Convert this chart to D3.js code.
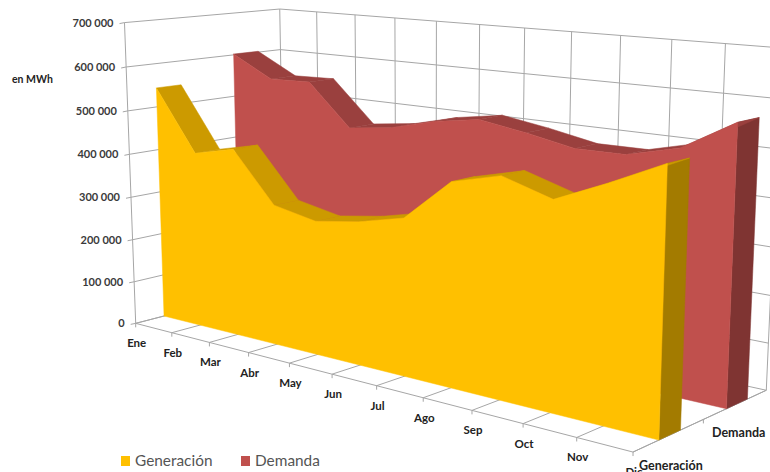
<!DOCTYPE html>
<html>
<head>
<meta charset="utf-8">
<script src="https://cdn.jsdelivr.net/npm/d3@7"></script>
<style>
  body { margin: 0; background: #fff; overflow: hidden; }
  text { font-family: Lato, "Noto Sans", sans-serif; }
</style>
</head>
<body>
<div id="chart"></div>
<script>
// Chart data, in MWh
var months = ["Ene", "Feb", "Mar", "Abr", "May", "Jun", "Jul", "Ago", "Sep", "Oct", "Nov", "Dic"];
var generacion = [544000, 405000, 428000, 317000, 298000, 314000, 339000, 430000, 457000, 426000, 473000, 524000];
var demanda = [602000, 552000, 555000, 460000, 473000, 499000, 516000, 500000, 480000, 481000, 508000, 571000];
var valueTicks = [0, 100000, 200000, 300000, 400000, 500000, 600000, 700000];
var seriesNames = ["Generación", "Demanda"];

var svgWidth = 770;
var svgHeight = 472;

var svg = d3.select("#chart")
  .append("svg")
  .attr("width", svgWidth)
  .attr("height", svgHeight);

// Scales into the 3D box: x = month, y = value, z = depth
var xScale = d3.scalePoint().domain(months).range([0, 11]);
var yScale = d3.scaleLinear().domain([0, 700000]).range([0, 7]);
// depth of each series as [front, back]
var zBand = { "Generación": [0.177, 0.331], "Demanda": [0.677, 0.844] };
var midDepth = 0.5;

// Camera: projective matrix fitted to the box corners and tick positions
var camera = fitCamera([
  [0, 0, 0, 136, 323], [1, 0, 0, 172, 333], [2, 0, 0, 210, 343], [3, 0, 0, 249, 353],
  [4, 0, 0, 290, 363], [5, 0, 0, 332, 375], [6, 0, 0, 377, 386], [7, 0, 0, 423, 397],
  [8, 0, 0, 472, 411], [9, 0, 0, 523, 424], [10, 0, 0, 577, 437], [11, 0, 0, 633, 452],
  [0, 7, 1, 280, 9], [1, 7, 1, 317, 12], [2, 7, 1, 355, 15], [3, 7, 1, 395, 18],
  [4, 7, 1, 437, 22], [5, 7, 1, 480, 25], [6, 7, 1, 524, 28], [7, 7, 1, 572, 32],
  [8, 7, 1, 621, 35], [9, 7, 1, 672, 39], [10, 7, 1, 726, 43], [11, 7, 1, 780, 47],
  [0, 1, 0, 134, 281], [0, 2, 0, 133, 239], [0, 3, 0, 131, 197], [0, 4, 0, 129, 154],
  [0, 5, 0, 128, 111], [0, 6, 0, 126, 67], [0, 7, 0, 123, 23],
  [11, 0, 1, 767, 391], [0, 0, 1, 283, 284], [0, 6, 1, 281, 50],
  [11, 0, 0.177, 658, 440], [11, 0, 0.844, 747, 399]
]);

// least squares fit of the projection through normal equations
function fitCamera(points) {
  var A = [], b = [];
  points.forEach(function(p) {
    var x = p[0], y = p[1], z = p[2], u = p[3], v = p[4];
    A.push([x, y, z, 1, 0, 0, 0, 0, -u * x, -u * y, -u * z]); b.push(u);
    A.push([0, 0, 0, 0, x, y, z, 1, -v * x, -v * y, -v * z]); b.push(v);
  });
  var n = 11, M = [];
  for (var i = 0; i < n; i++) {
    M.push([]);
    for (var j = 0; j <= n; j++) {
      M[i].push(d3.sum(A, (row, r) => row[i] * (j < n ? row[j] : b[r])));
    }
  }
  for (i = 0; i < n; i++) {
    var pivot = i;
    for (var r = i; r < n; r++) if (Math.abs(M[r][i]) > Math.abs(M[pivot][i])) pivot = r;
    var tmp = M[i]; M[i] = M[pivot]; M[pivot] = tmp;
    for (r = 0; r < n; r++) {
      if (r === i) continue;
      var f = M[r][i] / M[i][i];
      for (j = i; j <= n; j++) M[r][j] -= f * M[i][j];
    }
  }
  var h = M.map((row, k) => row[n] / row[k]);
  return [h.slice(0, 4), h.slice(4, 8), h.slice(8).concat([1])];
}

function project(x, y, z) {
  var w = camera[2][0] * x + camera[2][1] * y + camera[2][2] * z + 1;
  return [
    (camera[0][0] * x + camera[0][1] * y + camera[0][2] * z + camera[0][3]) / w,
    (camera[1][0] * x + camera[1][1] * y + camera[1][2] * z + camera[1][3]) / w
  ];
}

// point from month name, value and depth
function pt(month, value, z) {
  return project(xScale(month), yScale(value), z);
}

var path = d3.line();

var grid = svg.append("g")
  .attr("stroke", "#a6a6a6")
  .attr("stroke-width", 1)
  .attr("fill", "none");

function gridLine(a, b) {
  grid.append("path").attr("d", path([a, b]));
}

// Value gridlines on the left and back walls
valueTicks.forEach(function(v) {
  gridLine(pt("Ene", v, 0), pt("Ene", v, 1));
  gridLine(pt("Ene", v, 1), pt("Dic", v, 1));
  // tick
  var p = pt("Ene", v, 0);
  gridLine(p, [p[0] - 5, p[1] + 1]);
});

// Month gridlines on the back wall and floor
months.forEach(function(m) {
  gridLine(pt(m, 0, 1), pt(m, 700000, 1));
  gridLine(pt(m, 0, 0), pt(m, 0, 1));
  var p = pt(m, 0, 0);
  gridLine(p, [p[0], p[1] + 4]);
});

gridLine(pt("Ene", 0, 0), pt("Ene", 700000, 0));
gridLine(pt("Ene", 0, 0), pt("Dic", 0, 0));
gridLine(pt("Dic", 0, 0), pt("Dic", 0, 1));

// depth axis tick
var tickBase = pt("Dic", 0, midDepth);
gridLine(tickBase, [tickBase[0], tickBase[1] + 4]);

// One slab of the 3D area chart: end cap, top strips, front face
function drawSlab(values, z, colors) {
  var g = svg.append("g").attr("stroke-width", 0.5);

  g.append("path")
    .attr("d", path([pt("Dic", 0, z[0]), pt("Dic", values[11], z[0]), pt("Dic", values[11], z[1]), pt("Dic", 0, z[1])]) + "Z")
    .attr("fill", colors.side)
    .attr("stroke", colors.side);

  d3.range(values.length - 1).reverse().forEach(function(i) {
    var a = months[i], b = months[i + 1];
    g.append("path")
      .attr("d", path([pt(a, values[i], z[0]), pt(a, values[i], z[1]), pt(b, values[i + 1], z[1]), pt(b, values[i + 1], z[0])]) + "Z")
      .attr("fill", colors.top)
      .attr("stroke", colors.top);
  });

  var outline = months.map((m, i) => pt(m, values[i], z[0]));
  outline.push(pt("Dic", 0, z[0]), pt("Ene", 0, z[0]));
  g.append("path")
    .attr("d", path(outline) + "Z")
    .attr("fill", colors.front)
    .attr("stroke", colors.front);
}

drawSlab(demanda, zBand["Demanda"], { front: "#c0504d", top: "#9a403e", side: "#7f3432" });
drawSlab(generacion, zBand["Generación"], { front: "#ffc000", top: "#cc9a00", side: "#a37b00" });

// Value labels
var format = d3.format(",");
svg.append("g").selectAll("text")
  .data(valueTicks)
  .enter()
  .append("text")
  .attr("x", d => pt("Ene", d, 0)[0] - 11)
  .attr("y", d => pt("Ene", d, 0)[1] + 4)
  .attr("text-anchor", "end")
  .attr("font-size", 11)
  .attr("font-weight", 700)
  .attr("fill", "#3a3a3a")
  .text(d => format(d).replace(",", " "));

// Month labels
svg.append("g").selectAll("text")
  .data(months)
  .enter()
  .append("text")
  .attr("x", d => pt(d, 0, 0)[0] + 1)
  .attr("y", d => pt(d, 0, 0)[1] + 24)
  .attr("text-anchor", "middle")
  .attr("font-size", 11.5)
  .attr("font-weight", 700)
  .attr("fill", "#222")
  .text(d => d);

// Depth labels
svg.append("text")
  .attr("x", 639).attr("y", 470)
  .attr("font-size", 12.5).attr("font-weight", 700).attr("fill", "#222")
  .text(seriesNames[0]);
svg.append("text")
  .attr("x", 712).attr("y", 437)
  .attr("font-size", 12.5).attr("font-weight", 700).attr("fill", "#222")
  .text(seriesNames[1]);

svg.append("text")
  .attr("x", 12).attr("y", 83)
  .attr("font-size", 10.5).attr("font-weight", 700).attr("fill", "#222")
  .text("en MWh");

// Legend
var legend = svg.append("g");
[[121, 135, "#ffc000"], [241, 255, "#c0504d"]].forEach(function(l, i) {
  legend.append("rect")
    .attr("x", l[0]).attr("y", 456).attr("width", 9).attr("height", 10)
    .attr("fill", l[2]);
  legend.append("text")
    .attr("x", l[1]).attr("y", 466)
    .attr("font-size", 15.4).attr("fill", "#555")
    .text(seriesNames[i]);
});
</script>
</body>
</html>
